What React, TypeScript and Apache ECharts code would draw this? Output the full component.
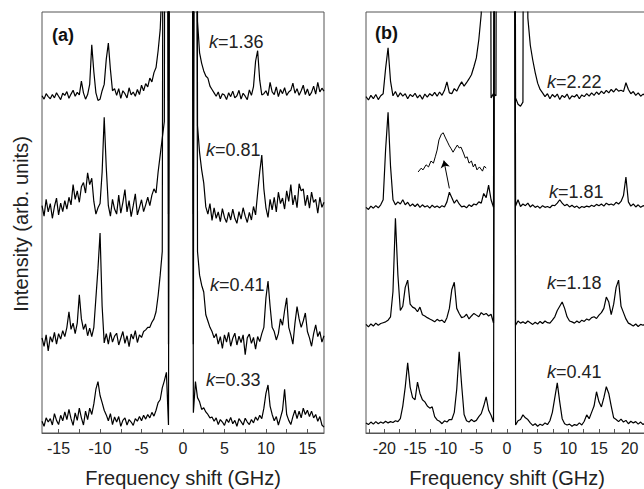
import React, { useEffect, useRef } from "react";
import * as echarts from "echarts";

// ---------- data ----------
// panel (a): samples every 0.25 GHz from -17 to 17 (137 points)
const xStartA = -17;
const xStepA = 0.25;
// panel (b): samples every 0.4 GHz from -23 to 23 (116 points)
const xStartB = -23;
const xStepB = 0.4;

const kLabelsA = ["1.36", "0.81", "0.41", "0.33"];
const kLabelsB = ["2.22", "1.81", "1.18", "0.41"];
// vertical offset of each spectrum (arb. units)
const offsetsA = [79.8, 53.0, 22.1, 2.4];
const offsetsB = [79.6, 53.4, 25.6, 2.4];

const tickValsA = [-15, -12.5, -10, -7.5, -5, -2.5, 0, 2.5, 5, 7.5, 10, 12.5, 15];
const labelValsA = [-15, -10, -5, 0, 5, 10, 15];
const tickValsB = [-22.5, -20, -17.5, -15, -12.5, -10, -7.5, -5, -2.5, 0, 2.5, 5, 7.5, 10, 12.5, 15, 17.5, 20, 22.5];
const labelValsB = [-20, -15, -10, -5, 0, 5, 10, 15, 20];

// k = 1.36
const specA1 = [
  0.3, -0.5, 0.8, 0.1,
  -0.4, 0.6, -0.2, 1.0,
  0.2, -0.6, 0.9, 0.4,
  1.3, -0.3, 0.7, 1.6,
  0.2, 1.1, 0.5, 3.8,
  1.0, -0.5, 0.6, 3.0,
  12.4, 6.0, 1.0, -0.8,
  -0.5, 1.5, 3.0, 9.0,
  12.8, 6.5, 1.5, 2.0,
  0.4, 2.0, -0.3, 1.5,
  0.8, -0.2, 2.2, 0.5,
  1.2, 0.2, 1.8, 0.6,
  2.8, 1.5, 3.2, 2.4,
  4.5, 3.6, 5.8, 7.0,
  11.0, 16.0, 28.0, 300,
  300, -0.8, 300, 300,
  300, 300, 300, 300,
  300, 300, 300, 300,
  300, -0.8, 300, 18.0,
  10.5, 8.0, 6.2, 5.0,
  4.5, 2.6, 1.8, 1.0,
  0.2, 1.2, -0.4, 0.8,
  0.5, -0.6, 1.0, 0.1,
  1.4, -0.2, 0.3, 1.6,
  -0.5, 0.9, 0.2, -0.6,
  1.7, 0.4, 2.5, 8.5,
  11.0, 4.0, 0.5, 0.8,
  1.5, 0.3, 3.5, 1.2,
  0.6, 2.4, 0.1, 1.8,
  0.8, 2.2, 0.4, 1.2,
  1.6, 3.3, 0.9, 2.0,
  0.4, 1.5, 2.8, 0.6,
  1.9, 0.3, 1.1, 2.6,
  0.7, 3.5, 1.2, 2.1,
  1.4,
];

// k = 0.81
const specA2 = [
  1.0, -1.5, 2.5, -0.5,
  1.5, -2.0, 0.8, 2.8,
  -1.2, 1.6, -0.4, 2.2,
  0.2, 3.0, 1.2, 6.0,
  2.5, 4.5, 1.8, 5.5,
  6.5, 4.0, 8.8, 6.0,
  7.5, 2.0, -1.0, 0.5,
  1.5, 9.0, 22.0, 10.0,
  1.0, -1.5, 2.5, 0.2,
  -1.0, 3.5, -0.8, 1.8,
  4.8, -0.5, 2.2, -1.6,
  1.0, 3.8, -1.2, 0.6,
  2.4, -0.4, 1.2, 3.0,
  1.0, 3.5, 5.0, 4.0,
  9.0, 13.0, 17.0, 21.0,
  300, -1.0, 300, 300,
  300, 300, 300, 300,
  300, 300, 300, 300,
  300, -1.0, 300, 20.0,
  13.6, 9.5, 6.4, 0.7,
  -1.0, 1.5, -2.5, 0.5,
  -2.0, -0.5, -2.8, 0.3,
  -1.8, -3.0, -0.6, -2.4,
  0.2, -2.0, -3.2, -0.4,
  -2.2, 0.5, -1.5, -3.0,
  -0.6, -2.4, 0.8, -1.2,
  4.0, 9.0, 13.0, 5.0,
  0.5, -1.8, 2.5, 0.0,
  3.0, -0.5, 4.2, 1.5,
  2.8, 0.2, 4.5, 2.0,
  6.0, 1.2, 3.5, 0.5,
  6.2, 4.5, 5.0, 1.0,
  3.5, 0.4, 4.2, 1.8,
  2.5, -0.8, 3.0, 0.6,
  1.8,
];

// k = 0.41
const specA3 = [
  0.5, -1.5, 1.2, -2.6,
  0.8, -0.5, 1.8, -1.0,
  1.5, 0.2, 2.2, 0.8,
  3.0, 6.7, 2.5, 4.0,
  1.5, 4.0, 10.7, 5.0,
  2.5, 3.8, 1.0, 2.8,
  0.8, 3.0, 10.0, 17.0,
  25.4, 8.0, -0.7, 1.5,
  -1.0, 1.8, -0.5, 0.9,
  1.6, -1.2, 0.4, 2.0,
  -0.8, 1.0, -1.6, 1.4,
  0.2, 2.2, -0.6, 1.2,
  0.6, 2.0, 2.4, 3.0,
  3.0, 4.2, 5.0, 6.7,
  10.5, 15.4, 21.0, 300,
  300, -1.0, 300, 300,
  300, 300, 300, 300,
  300, 300, 300, 300,
  300, -1.0, 300, 21.0,
  15.4, 13.0, 11.4, 6.0,
  4.5, 3.0, 2.0, 0.5,
  1.5, -1.0, 0.8, -2.0,
  1.2, -0.5, 1.8, -1.5,
  0.4, 1.6, -1.2, 0.9,
  -0.6, 1.2, -3.5, 0.5,
  1.4, -0.8, 0.6, -2.2,
  0.8, -0.4, 1.5, 3.0,
  10.0, 14.0, 8.0, 3.0,
  2.0, 0.0, 1.5, 5.0,
  3.5, 7.0, 10.0, 3.0,
  1.2, -1.0, 4.0, 7.9,
  5.0, 3.0, 4.5, 6.4,
  2.0, 0.5, -1.5, 1.5,
  3.6, 0.8, 2.0, -0.5,
  1.0,
];

// k = 0.33
const specA4 = [
  0.4, -0.8, 1.2, 0.2,
  1.0, -0.5, 2.2, 0.6,
  -0.4, 1.8, 0.5, 2.6,
  0.8, 3.2, 1.0, -0.6,
  2.4, 0.6, 3.5, 1.2,
  -0.5, 2.8, 0.8, 3.5,
  2.0, 4.5, 8.0, 9.8,
  6.5, 4.8, 3.0, 1.9,
  0.5, 2.2, -0.4, 1.4,
  0.2, 1.5, -0.8, 0.6,
  1.2, -0.5, 0.8, 0.2,
  -0.6, 1.0, 0.4, 1.5,
  0.5, 1.8, 0.9, 2.0,
  1.2, 2.5, 1.6, 3.0,
  4.8, 5.5, 8.3, 10.0,
  12.0, -0.5, 300, 300,
  300, 300, 300, 300,
  300, 300, 300, 300,
  300, 2.4, 9.8, 6.0,
  5.0, 3.2, 3.6, 2.6,
  2.0, 1.2, 1.4, 0.4,
  1.2, -0.4, 0.8, 0.2,
  -0.6, 0.9, 0.1, 1.3,
  -0.2, 0.6, -0.8, 1.0,
  0.3, -0.5, 1.1, 0.2,
  -0.4, 0.8, 0.0, 1.4,
  0.6, 1.8, 1.0, 3.5,
  7.0, 9.0, 4.0, 2.0,
  0.5, 1.5, -0.5, 1.2,
  3.0, 8.0, 2.0, 0.6,
  -0.4, 1.5, 3.0, 1.0,
  2.8, 1.2, 3.5, 2.0,
  3.0, 1.5, 2.8, 1.2,
  2.0, 0.4, 1.5, -0.5,
  -1.0,
];

// k = 2.22
const specB1 = [
  0.3, -0.5, 0.6, -0.2, 0.8,
  -0.4, 0.5, 1.0, 7.0, 11.9,
  4.0, 0.5, 1.5, 0.2, 1.2,
  0.4, 1.0, -0.2, 0.8, 0.3,
  1.1, 0.0, 0.7, -0.3, 0.9,
  0.2, 1.0, 0.5, 1.3, 0.4,
  1.4, 0.6, 1.8, 3.8, 1.2,
  1.0, 2.2, 1.6, 2.8, 3.8,
  2.8, 3.6, 4.5, 5.5, 7.4,
  9.5, 13.8, 20.0, 300, 300,
  300, 0.0, 1.0, 0.5, 300,
  300, 300, 300, 300, 300,
  300, 0.0, -1.5, -2.0, -1.0,
  300, 19.0, 12.5, 9.0, 6.0,
  3.5, 2.0, 1.2, 0.3, 1.0,
  -0.2, 0.8, 0.2, 0.9, -0.4,
  0.6, 0.1, 0.9, -0.3, 0.5,
  0.2, 0.8, -0.2, 0.7, 0.3,
  1.0, 0.4, 1.2, 0.6, 1.4,
  0.8, 1.6, 1.0, 1.8, 1.2,
  2.0, 1.4, 2.2, 1.6, 1.8,
  1.5, 3.6, 2.0, 1.0, 1.5,
  0.6, 1.2, 0.4, 0.9, 0.5,
  0.5,
];

// k = 1.81
const specB2 = [
  0.2, -0.3, 0.5, 0.0, 0.6,
  0.1, 0.8, 2.0, 14.0, 22.8,
  10.0, 2.0, 0.8, 1.5, 1.0,
  2.0, 0.8, 1.4, 0.5, 1.0,
  0.4, 1.0, 0.2, 0.8, 0.3,
  0.6, 0.0, 0.7, 0.2, 0.5,
  0.1, 0.6, 0.3, 1.5, 3.8,
  2.5, 1.2, 2.0, 1.0, 0.3,
  0.5, 0.1, 0.8, 0.4, 1.0,
  0.8, 1.5, 1.2, 3.5, 2.5,
  5.5, 2.0, 0.2, 300, 300,
  300, 300, 300, 300, 300,
  300, 0.5, 2.0, 0.4, 1.0,
  0.6, 1.2, 0.3, 0.8, 0.2,
  0.5, 0.0, 0.6, 0.2, 0.4,
  0.1, 0.7, 0.6, 1.2, 2.0,
  1.2, 0.6, 0.9, 0.3, 0.7,
  0.2, 0.5, 0.0, 0.4, 0.2,
  0.5, 0.3, 0.7, 0.4, 0.9,
  0.6, 1.0, 0.5, 1.2, 0.8,
  1.0, 0.7, 1.4, 1.0, 1.6,
  3.0, 7.4, 1.5, 0.5, 1.0,
  0.3, 0.8, 0.2, 0.6, 0.4,
  0.5,
];

// k = 1.18
const specB3 = [
  0.2, -0.4, 0.3, -0.2, 0.5,
  0.0, 0.4, 0.6, 0.8, 1.2,
  2.0, 8.0, 25.4, 12.0, 3.5,
  4.5, 9.0, 10.7, 5.0, 4.3,
  4.0, 3.2, 4.3, 2.5, 2.2,
  1.8, 1.5, 1.2, 0.8, 1.4,
  1.0, 1.2, 0.6, 1.8, 4.0,
  8.5, 10.2, 4.0, 2.8, 1.8,
  2.0, 2.6, 1.5, 2.2, 2.8,
  2.4, 2.0, 3.0, 2.5, 2.8,
  2.2, 2.6, 0.5, 300, 300,
  300, 300, 300, 300, 300,
  300, 0.0, 1.0, 0.5, 0.8,
  0.4, 1.0, 0.6, 0.2, 0.7,
  0.3, 0.9, 0.4, 1.0, 0.6,
  0.5, 1.2, 2.0, 3.5, 4.5,
  5.5, 4.0, 2.0, 1.0, 0.8,
  0.5, 1.0, 0.6, 1.2, 0.9,
  1.5, 1.2, 1.8, 2.0, 1.6,
  2.4, 3.0, 4.0, 6.7, 5.5,
  2.5, 5.0, 9.0, 10.7, 4.5,
  3.0, 1.5, 0.5, 0.2, -0.2,
  0.3, -0.3, 0.2, 0.0, 0.3,
  0.1,
];

// k = 0.41
const specB4 = [
  0.0, -0.4, 0.2, -0.3, 0.3,
  -0.2, 0.2, -0.1, 0.4, 0.0,
  0.3, 0.1, 0.5, 0.3, 1.0,
  4.0, 8.5, 14.3, 8.5, 6.0,
  5.5, 9.7, 7.0, 5.5, 5.0,
  4.0, 3.5, 3.8, 1.5, 0.7,
  0.4, -0.2, 0.5, 0.2, 0.8,
  0.8, 2.5, 8.0, 16.9, 9.0,
  2.0, 0.5, 0.2, 0.8, 0.3,
  0.6, 1.5, 2.2, 4.0, 6.2,
  3.0, 1.8, 0.2, 300, 300,
  300, 300, 300, 300, 300,
  300, -0.5, 0.5, 0.8, 1.9,
  1.2, 0.8, 0.0, -0.6, -0.2,
  -0.8, -0.3, -0.6, 0.0, -0.4,
  0.5, 2.5, 6.0, 9.5, 5.0,
  1.0, -0.2, -0.5, -0.3, -0.8,
  -0.4, -0.6, 0.0, -0.5, 0.4,
  1.9, 1.0, 2.5, 4.0, 7.4,
  5.0, 3.8, 6.0, 8.6, 7.0,
  4.0, 1.2, 0.8, 0.3, 0.9,
  0.2, 0.6, -0.2, 0.4, 0.0,
  0.3, -0.3, 0.2, -0.4, 0.1,
  0.0,
];

// magnified inset of the k=1.81 spectrum (panel b)
const insetX = [-14.5, -14.0, -13.7, -13.2, -12.8, -12.4, -12.0, -11.7, -11.4, -11.1, -10.7, -10.4, -10.1, -9.7, -9.4, -9.1, -8.8, -8.4, -8.1, -7.8, -7.5, -7.1, -6.8, -6.5, -6.2, -5.8, -5.5, -5.2, -4.9, -4.5, -4.0, -3.7, -3.4];
const insetY = [62.0, 62.9, 62.5, 63.7, 63.2, 64.6, 64.1, 65.6, 67.2, 69.6, 71.0, 71.3, 70.3, 69.1, 68.2, 67.5, 66.7, 67.7, 68.4, 67.7, 67.9, 66.5, 65.3, 65.6, 64.1, 64.6, 63.2, 63.9, 62.5, 63.2, 62.2, 63.4, 62.9];
const arrowFrom = [-9.4, 58.1];
const arrowTo = [-10.3, 64.7];

const specsA = [specA1, specA2, specA3, specA4];
const specsB = [specB1, specB2, specB3, specB4];

const FONT = "'Liberation Sans', Arial, Helvetica, sans-serif";
const AXIS_COLOR = "#555";
const TEXT_COLOR = "#222";

function toSeriesData(vals: number[], start: number, step: number, offset: number) {
  return vals.map((v, i) => [+(start + step * i).toFixed(3), offset + v]);
}

export default function App() {
  const ref = useRef<HTMLDivElement>(null);

  useEffect(() => {
    if (!ref.current) return;
    const chart = echarts.init(ref.current, null, { renderer: "svg" });

    const lineSeries = (data: number[][], idx: number, width = 1.2) => ({
      type: "line",
      xAxisIndex: idx,
      yAxisIndex: idx,
      data,
      symbol: "none",
      showSymbol: false,
      clip: true,
      lineStyle: { color: "#000", width },
      silent: true,
      animation: false,
    });

    const series: any[] = [];
    specsA.forEach((s, i) => series.push(lineSeries(toSeriesData(s, xStartA, xStepA, offsetsA[i]), 0)));
    specsB.forEach((s, i) => series.push(lineSeries(toSeriesData(s, xStartB, xStepB, offsetsB[i]), 1)));
    series.push({
      ...lineSeries(insetX.map((x, i) => [x, insetY[i]]), 1, 1),
      markLine: {
        silent: true,
        animation: false,
        symbol: ["none", "arrow"],
        symbolSize: 7,
        lineStyle: { color: "#000", width: 1, type: "solid" },
        label: { show: false },
        data: [[{ coord: arrowFrom }, { coord: arrowTo }]],
      },
    });

    const xAxisBase = (idx: number, min: number, max: number, ticks: number[], labels: number[]) => ({
      type: "value",
      gridIndex: idx,
      min,
      max,
      axisLine: { show: true, onZero: false, lineStyle: { color: AXIS_COLOR, width: 1 } },
      axisTick: { show: true, inside: true, length: 4, customValues: ticks, lineStyle: { color: AXIS_COLOR } },
      axisLabel: { show: true, customValues: labels, fontSize: 16, color: TEXT_COLOR, margin: 7, fontFamily: FONT },
      splitLine: { show: false },
      name: "Frequency shift (GHz)",
      nameLocation: "middle",
      nameGap: 35,
      nameTextStyle: { fontSize: 20, color: TEXT_COLOR, fontFamily: FONT },
    });

    const yAxisBase = (idx: number) => ({
      type: "value",
      gridIndex: idx,
      min: 0,
      max: 100,
      show: false,
    });

    const kText = (label: string, x: number, y: number) => ({
      type: "text",
      x,
      y,
      silent: true,
      style: {
        text: "{i|k}=" + label,
        fontSize: 18,
        fontFamily: FONT,
        fill: TEXT_COLOR,
        verticalAlign: "middle",
        align: "left",
        rich: { i: { fontStyle: "italic", fontSize: 18, fontFamily: FONT, fill: TEXT_COLOR } },
      },
    });

    const kPosA = [[209, 42], [206, 150], [210, 285], [206, 380]];
    const kPosB = [[547, 82], [549, 192], [547, 283], [547, 372]];

    const graphics: any[] = [
      {
        type: "text",
        x: 52,
        y: 35,
        silent: true,
        style: { text: "(a)", fontSize: 18, fontWeight: "bold", fontFamily: FONT, fill: "#111", verticalAlign: "middle" },
      },
      {
        type: "text",
        x: 375,
        y: 33,
        silent: true,
        style: { text: "(b)", fontSize: 18, fontWeight: "bold", fontFamily: FONT, fill: "#111", verticalAlign: "middle" },
      },
      {
        type: "text",
        x: 21,
        y: 224,
        rotation: Math.PI / 2,
        silent: true,
        style: {
          text: "Intensity (arb. units)",
          fontSize: 20,
          fontFamily: FONT,
          fill: TEXT_COLOR,
          align: "center",
          verticalAlign: "middle",
        },
      },
    ];
    kLabelsA.forEach((k, i) => graphics.push(kText(k, kPosA[i][0], kPosA[i][1])));
    kLabelsB.forEach((k, i) => graphics.push(kText(k, kPosB[i][0], kPosB[i][1])));

    chart.setOption({
      animation: false,
      backgroundColor: "#fff",
      grid: [
        { left: 42, top: 12, width: 282, height: 421, show: true, borderColor: AXIS_COLOR, borderWidth: 1, backgroundColor: "transparent", containLabel: false, outerBoundsMode: "none" },
        { left: 366, top: 12, width: 282, height: 421, show: true, borderColor: AXIS_COLOR, borderWidth: 1, backgroundColor: "transparent", containLabel: false, outerBoundsMode: "none" },
      ],
      xAxis: [
        xAxisBase(0, -17, 17, tickValsA, labelValsA),
        xAxisBase(1, -23, 23, tickValsB, labelValsB),
      ],
      yAxis: [yAxisBase(0), yAxisBase(1)],
      series,
      graphic: graphics,
    } as any);

    return () => chart.dispose();
  }, []);

  return (
    <div
      ref={ref}
      style={{ position: "absolute", left: 0, top: 0, width: 644, height: 489, background: "#fff" }}
    />
  );
}
